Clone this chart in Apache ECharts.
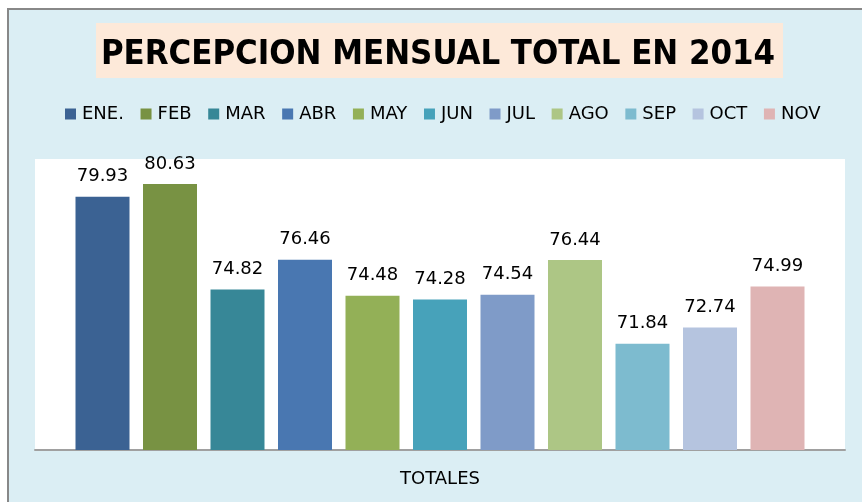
<!DOCTYPE html>
<html>
<head>
<meta charset="utf-8">
<title>Percepción mensual total en 2014</title>
<script src="https://cdn.jsdelivr.net/npm/echarts@6/dist/echarts.min.js"></script>
<style>
  html, body { margin: 0; padding: 0; background: #ffffff; }
  #chart { width: 862px; height: 502px; }
</style>
</head>
<body>
<div id="chart"></div>
<script>
// Monthly totals for 2014, one series per month inside the single "TOTALES" category
const categories = ['TOTALES'];
const months = ['ENE.', 'FEB', 'MAR', 'ABR', 'MAY', 'JUN', 'JUL', 'AGO', 'SEP', 'OCT', 'NOV'];
const values = [79.93, 80.63, 74.82, 76.46, 74.48, 74.28, 74.54, 76.44, 71.84, 72.74, 74.99];
const palette = ['#3b6293', '#789243', '#378797', '#4977b1', '#93b057', '#47a2ba',
                 '#7f9bc8', '#adc685', '#7dbbcf', '#b5c4df', '#dfb4b4'];

const chart = echarts.init(document.getElementById('chart'), null, { renderer: 'canvas' });

const series = months.map((m, i) => ({
  name: m,
  type: 'bar',
  data: [values[i]],
  barWidth: 54,
  barGap: '25%',
  itemStyle: { color: palette[i] },
  label: {
    show: true,
    position: 'top',
    distance: 11,
    color: '#000000',
    fontFamily: 'DejaVu Sans',
    fontSize: 18,
    formatter: p => p.value.toFixed(2)
  }
}));

chart.setOption({
  animation: false,
  backgroundColor: '#ffffff',
  color: palette,
  graphic: [
    {
      // chart frame
      type: 'rect',
      z: -10,
      shape: { x: 8, y: 9, width: 900, height: 520 },
      style: { fill: '#dbeef4', stroke: '#888888', lineWidth: 2 }
    },
    {
      // title box
      type: 'rect',
      z: -5,
      shape: { x: 96, y: 23, width: 687, height: 55 },
      style: { fill: '#fde9d9' }
    }
  ],
  title: {
    text: 'PERCEPCION MENSUAL TOTAL EN 2014',
    left: 433,
    top: 33,
    textAlign: 'center',
    textStyle: {
      fontFamily: 'DejaVu Sans Condensed',
      fontWeight: 'bold',
      fontSize: 34.4,
      color: '#000000'
    }
  },
  legend: {
    data: months,
    top: 105,
    left: 65,
    padding: 0,
    icon: 'rect',
    itemWidth: 11,
    itemHeight: 11,
    itemGap: 16.6,
    textStyle: {
      fontFamily: 'DejaVu Sans',
      fontSize: 18,
      color: '#000000',
      padding: [0, 0, 0, 1]
    }
  },
  grid: {
    left: 35,
    right: 17,
    top: 159,
    bottom: 52,
    show: true,
    backgroundColor: '#ffffff',
    borderWidth: 0
  },
  xAxis: {
    type: 'category',
    data: categories,
    axisLine: { lineStyle: { color: '#a0a0a0', width: 2 } },
    axisTick: { show: false },
    axisLabel: {
      margin: 20,
      fontFamily: 'DejaVu Sans',
      fontSize: 18,
      color: '#000000'
    }
  },
  yAxis: {
    type: 'value',
    min: 66,
    max: 82,
    interval: 2,
    show: false,
    splitLine: { show: false }
  },
  series: series
});
</script>
</body>
</html>
